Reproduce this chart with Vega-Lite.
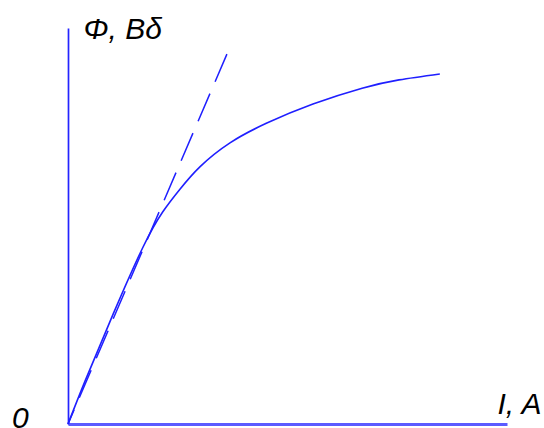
{
  "$schema": "https://vega.github.io/schema/vega-lite/v6.json",
  "width": 439,
  "height": 396,
  "padding": {"left": 68, "top": 28, "right": 37, "bottom": 4},
  "autosize": {"type": "none"},
  "background": "white",
  "config": {"view": {"stroke": null}},
  "datasets": {
    "magnetization": [
      {"current": 0, "flux": 0},
      {"current": 3.9, "flux": 10.9},
      {"current": 10.3, "flux": 27.8},
      {"current": 17.1, "flux": 44.7},
      {"current": 21.6, "flux": 53.6},
      {"current": 25.5, "flux": 59.3},
      {"current": 30.1, "flux": 65.0},
      {"current": 36.9, "flux": 71.0},
      {"current": 45.3, "flux": 76.0},
      {"current": 55.8, "flux": 80.8},
      {"current": 67.0, "flux": 84.8},
      {"current": 75.4, "flux": 86.9},
      {"current": 84.7, "flux": 88.4}
    ],
    "airgap": [
      {"current": 36.2, "flux": 93.4, "step": 0},
      {"current": 0, "flux": 0, "step": 1}
    ],
    "origin": [
      {"current": 0, "flux": 0, "label": "0"}
    ]
  },
  "layer": [
    {
      "data": {"name": "magnetization"},
      "mark": {"type": "line", "color": "#1f1fff", "strokeWidth": 1.6, "interpolate": "natural"},
      "encoding": {
        "x": {
          "field": "current",
          "type": "quantitative",
          "scale": {"domain": [0, 100], "nice": false, "zero": true},
          "axis": {
            "title": "I, A",
            "ticks": false,
            "labels": false,
            "grid": false,
            "domainColor": "#5b5bff",
            "domainWidth": 3,
            "titleFont": "Liberation Sans",
            "titleFontStyle": "italic",
            "titleFontWeight": "normal",
            "titleFontSize": 30,
            "titleColor": "#000000",
            "titleX": 429,
            "titleY": -11,
            "titleAlign": "left",
            "titleBaseline": "alphabetic"
          }
        },
        "y": {
          "field": "flux",
          "type": "quantitative",
          "scale": {"domain": [0, 100], "nice": false, "zero": true},
          "axis": {
            "title": "Φ, Bδ",
            "ticks": false,
            "labels": false,
            "grid": false,
            "domainColor": "#2424ff",
            "domainWidth": 1.7,
            "titleAngle": 0,
            "titleFont": "Liberation Sans",
            "titleFontStyle": "italic",
            "titleFontWeight": "normal",
            "titleFontSize": 30,
            "titleColor": "#000000",
            "titleX": 15,
            "titleY": 10,
            "titleAlign": "left",
            "titleBaseline": "alphabetic"
          }
        }
      }
    },
    {
      "data": {"name": "airgap"},
      "mark": {"type": "line", "color": "#1f1fff", "strokeWidth": 1.5, "strokeDash": [30, 13]},
      "encoding": {
        "x": {"field": "current", "type": "quantitative"},
        "y": {"field": "flux", "type": "quantitative"},
        "order": {"field": "step", "type": "quantitative"}
      }
    },
    {
      "data": {"name": "origin"},
      "mark": {
        "type": "text",
        "font": "Liberation Sans",
        "fontStyle": "italic",
        "fontSize": 30,
        "color": "#000000",
        "align": "left",
        "baseline": "alphabetic",
        "dx": -56,
        "dy": 4
      },
      "encoding": {
        "x": {"field": "current", "type": "quantitative"},
        "y": {"field": "flux", "type": "quantitative"},
        "text": {"field": "label"}
      }
    }
  ]
}
